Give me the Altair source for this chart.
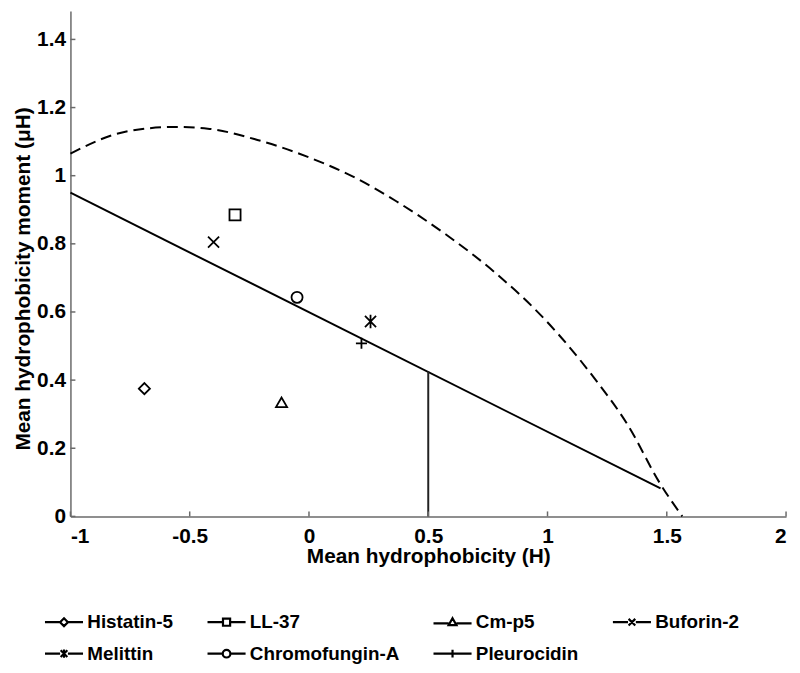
import altair as alt
import pandas as pd

# ---- data ----
names = ["Histatin-5", "LL-37", "Cm-p5", "Buforin-2", "Melittin", "Chromofungin-A", "Pleurocidin"]
H = [-0.69, -0.31, -0.115, -0.40, 0.258, -0.05, 0.22]
muH = [0.375, 0.885, 0.335, 0.805, 0.572, 0.643, 0.508]

curve_H = [-1.0, -0.77, -0.562, -0.424, -0.216, -0.008, 0.199, 0.366, 0.573, 0.781, 0.989, 1.197, 1.335, 1.474, 1.565]
curve_muH = [1.065, 1.129, 1.143, 1.138, 1.105, 1.056, 0.992, 0.925, 0.828, 0.715, 0.578, 0.405, 0.27, 0.094, 0.0]

line_H = [-1.0, 1.474]
line_muH = [0.95, 0.082]

cut_H = [0.5]
cut_low = [0.0]
cut_high = [0.426]

x_ticks = [-1, -0.5, 0, 0.5, 1, 1.5, 2]
y_ticks = [0, 0.2, 0.4, 0.6, 0.8, 1, 1.2, 1.4]

# marker shapes (plot) and legend symbols (line stub + marker)
X_PATH = "M-1,-1L1,1M-1,1L1,-1"
AST_PATH = "M-1,-1L1,1M-1,1L1,-1M0,-1.2L0,1.2"
PLUS_PATH = "M-1,0L1,0M0,-1L0,1"
marker_shapes = ["diamond", "square", "triangle-up", X_PATH, AST_PATH, "circle", PLUS_PATH]

STUB_L = "M-1.6,0L-0.33,0"
STUB_R = "M0.33,0L1.6,0"
legend_shapes = [
    "M-1.6,0L-0.33,0M0.33,0L1.6,0M0,-0.33L0.33,0L0,0.33L-0.33,0Z",
    "M-1.6,0L-0.3,0M0.3,0L1.6,0M-0.3,-0.3L0.3,-0.3L0.3,0.3L-0.3,0.3Z",
    "M-1.6,0.1L-0.33,0.1M0.33,0.1L1.6,0.1M0,-0.33L0.33,0.25L-0.33,0.25Z",
    STUB_L + STUB_R + "M-0.28,-0.28L0.28,0.28M-0.28,0.28L0.28,-0.28",
    STUB_L + STUB_R + "M-0.28,-0.28L0.28,0.28M-0.28,0.28L0.28,-0.28M0,-0.35L0,0.35",
    "M-1.6,0L-0.32,0M0.32,0L1.6,0M0.32,0A0.32,0.32 0 1,1 -0.32,0A0.32,0.32 0 1,1 0.32,0",
    "M-1.6,0L1.6,0M0,-0.33L0,0.33",
]

FONT = "Liberation Sans, Arial, sans-serif"
AX_COL = "#6a6a6a"
W, Hh = 722, 510

pts = pd.DataFrame({"name": names, "H": H, "muH": muH})
curve = pd.DataFrame({"H": curve_H, "muH": curve_muH})
line = pd.DataFrame({"H": line_H, "muH": line_muH})
cut = pd.DataFrame({"H": cut_H, "lo": cut_low, "hi": cut_high})
xt = pd.DataFrame({"v": x_ticks})
yt = pd.DataFrame({"v": y_ticks})

xs = alt.Scale(domain=[-1, 2], nice=False, zero=False)
ys = alt.Scale(domain=[0, 1.4837], nice=False, zero=False)

x_main = alt.Axis(values=x_ticks, labelExpr="'' + datum.value", ticks=False, grid=False,
                  domainColor=AX_COL, domainWidth=1.5, labelFont=FONT, labelFontSize=21,
                  labelFontWeight="bold", labelColor="black", labelPadding=9,
                  title="Mean hydrophobicity (H)", titleFont=FONT, titleFontSize=21,
                  titleFontWeight="bold", titleColor="black", titlePadding=0)
y_main = alt.Axis(values=y_ticks, labelExpr="'' + datum.value", ticks=False, grid=False,
                  domainColor=AX_COL, domainWidth=1.5, labelFont=FONT, labelFontSize=21,
                  labelFontWeight="bold", labelColor="black", labelPadding=5,
                  title="Mean hydrophobicity moment (\u03bcH)", titleFont=FONT, titleFontSize=21,
                  titleFontWeight="bold", titleColor="black", titleX=-37, titleY=270,
                  titleBaseline="bottom", titleAngle=270, titleAlign="center")

solid = alt.Chart(line).mark_line(color="black", strokeWidth=2).encode(
    x=alt.X("H:Q", scale=xs, axis=x_main),
    y=alt.Y("muH:Q", scale=ys, axis=y_main),
)

dashed = alt.Chart(curve).mark_line(color="black", strokeWidth=2, strokeDash=[11, 6],
                                     interpolate="monotone").encode(
    x=alt.X("H:Q", scale=xs),
    y=alt.Y("muH:Q", scale=ys),
)

rule = alt.Chart(cut).mark_rule(color="#222222", strokeWidth=2).encode(
    x=alt.X("H:Q", scale=xs),
    y=alt.Y("lo:Q", scale=ys),
    y2="hi:Q",
)

# inward tick marks on both axes
xtick_marks = alt.Chart(xt).mark_rule(color=AX_COL, strokeWidth=1.5).encode(
    x=alt.X("v:Q", scale=xs),
    y=alt.value(Hh),
    y2=alt.value(Hh - 5),
)
ytick_marks = alt.Chart(yt).mark_rule(color=AX_COL, strokeWidth=1.5).encode(
    y=alt.Y("v:Q", scale=ys),
    x=alt.value(0),
    x2=alt.value(5),
)

points = alt.Chart(pts).mark_point(filled=False, color="black", size=125, strokeWidth=1.8,
                                   opacity=1).encode(
    x=alt.X("H:Q", scale=xs),
    y=alt.Y("muH:Q", scale=ys),
    shape=alt.Shape("name:N", scale=alt.Scale(domain=names, range=marker_shapes), legend=None),
)

legend_layer = alt.Chart(pts).mark_point(filled=False, color="black", opacity=0).encode(
    x=alt.X("H:Q", scale=xs),
    y=alt.Y("muH:Q", scale=ys),
    shape=alt.Shape("name:N", scale=alt.Scale(domain=names, range=legend_shapes),
                    legend=alt.Legend(orient="none", legendX=-20, legendY=603, direction="horizontal",
                                      columns=4, columnPadding=29, rowPadding=8, gridAlign="each",
                                      symbolSize=576, symbolStrokeWidth=2.2, symbolStrokeColor="black",
                                      symbolFillColor="transparent", symbolOpacity=1,
                                      labelFont=FONT, labelFontSize=19, labelFontWeight="bold",
                                      labelColor="black", labelOffset=10, labelLimit=300, title=None)),
)

chart = alt.layer(solid, dashed, rule, xtick_marks, ytick_marks, points, legend_layer).resolve_scale(
    shape="independent"
).properties(
    width=W, height=Hh,
    autosize=alt.AutoSizeParams(type="none"),
    padding={"left": 63, "top": 0, "right": 6, "bottom": 147},
).configure_view(stroke=None)

chart.save("out.html", embed_options={"renderer": "svg", "actions": False})
